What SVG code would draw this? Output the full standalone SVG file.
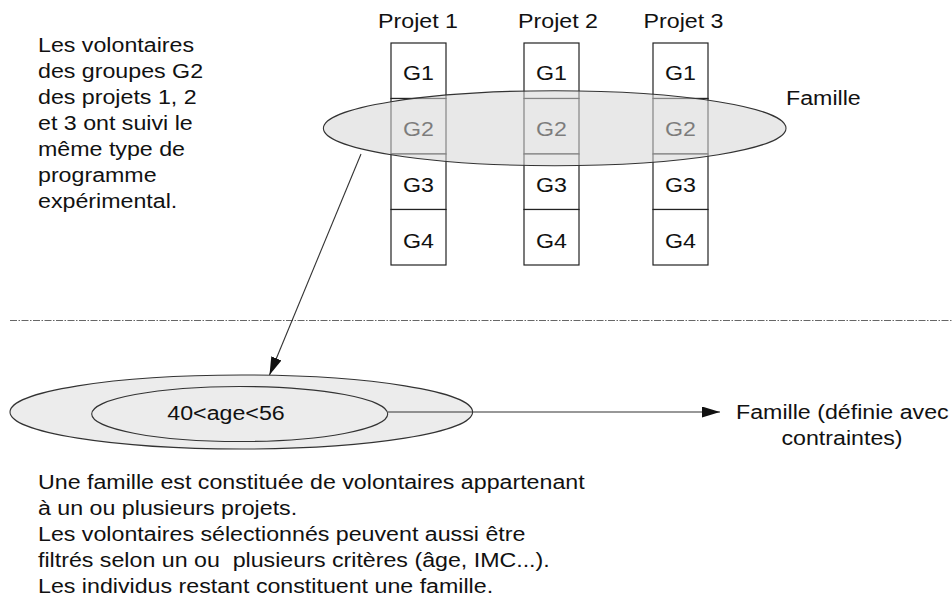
<svg xmlns="http://www.w3.org/2000/svg" width="952" height="599" viewBox="0 0 952 599">
  <style>
    .t { font-family: "Liberation Sans", Arial, sans-serif; font-size: 19.5px; fill: #111; }
    .mid { text-anchor: middle; }
    .box { fill: #fff; stroke: #222; stroke-width: 1.2; }
    .fam { fill: #d6d6d6; fill-opacity: 0.55; stroke: #333; stroke-width: 1.1; }
    .filt { fill: #ececec; stroke: #333; stroke-width: 1.1; }
    .conn { stroke: #333; stroke-width: 1.1; fill: none; }
  </style>
  <defs>
    <marker id="head" markerUnits="userSpaceOnUse" markerWidth="18" markerHeight="11" refX="18" refY="5.5" orient="auto">
      <path d="M0,0 L18,5.5 L0,11 z" fill="#111"/>
    </marker>
  </defs>

  <rect width="952" height="599" fill="#fff"/>

  <!-- explanatory note, top left -->
  <g id="note-g2">
    <text class="t" transform="translate(38,52.3) scale(1.19 1)">
      <tspan x="0" y="0">Les volontaires</tspan>
      <tspan x="0" dy="26">des groupes G2</tspan>
      <tspan x="0" dy="26">des projets 1, 2</tspan>
      <tspan x="0" dy="26">et 3 ont suivi le</tspan>
      <tspan x="0" dy="26">même type de</tspan>
      <tspan x="0" dy="26">programme</tspan>
      <tspan x="0" dy="26">expérimental.</tspan>
    </text>
  </g>

  <!-- project columns, groups G1..G4 -->
  <g id="projet1">
    <text class="t mid" transform="translate(418,28) scale(1.19 1)">Projet 1</text>
    <rect class="box" x="391" y="43" width="55" height="55.5"/>
    <rect class="box" x="391" y="98.5" width="55" height="55.5"/>
    <rect class="box" x="391" y="154" width="55" height="55.5"/>
    <rect class="box" x="391" y="209.5" width="55" height="55.5"/>
    <text class="t mid" transform="translate(418.5,80) scale(1.19 1)">G1</text>
    <text class="t mid" transform="translate(418.5,136) scale(1.19 1)">G2</text>
    <text class="t mid" transform="translate(418.5,191.5) scale(1.19 1)">G3</text>
    <text class="t mid" transform="translate(418.5,247.5) scale(1.19 1)">G4</text>
  </g>
  <g id="projet2">
    <text class="t mid" transform="translate(558,28) scale(1.19 1)">Projet 2</text>
    <rect class="box" x="524" y="43" width="55" height="55.5"/>
    <rect class="box" x="524" y="98.5" width="55" height="55.5"/>
    <rect class="box" x="524" y="154" width="55" height="55.5"/>
    <rect class="box" x="524" y="209.5" width="55" height="55.5"/>
    <text class="t mid" transform="translate(551.5,80) scale(1.19 1)">G1</text>
    <text class="t mid" transform="translate(551.5,136) scale(1.19 1)">G2</text>
    <text class="t mid" transform="translate(551.5,191.5) scale(1.19 1)">G3</text>
    <text class="t mid" transform="translate(551.5,247.5) scale(1.19 1)">G4</text>
  </g>
  <g id="projet3">
    <text class="t mid" transform="translate(683.5,28) scale(1.19 1)">Projet 3</text>
    <rect class="box" x="653" y="43" width="55" height="55.5"/>
    <rect class="box" x="653" y="98.5" width="55" height="55.5"/>
    <rect class="box" x="653" y="154" width="55" height="55.5"/>
    <rect class="box" x="653" y="209.5" width="55" height="55.5"/>
    <text class="t mid" transform="translate(680.5,80) scale(1.19 1)">G1</text>
    <text class="t mid" transform="translate(680.5,136) scale(1.19 1)">G2</text>
    <text class="t mid" transform="translate(680.5,191.5) scale(1.19 1)">G3</text>
    <text class="t mid" transform="translate(680.5,247.5) scale(1.19 1)">G4</text>
  </g>

  <!-- family spanning the G2 groups -->
  <g id="famille">
    <ellipse class="fam" cx="554.7" cy="128.2" rx="231.3" ry="37.5"/>
    <text class="t" transform="translate(786,105) scale(1.19 1)">Famille</text>
  </g>

  <!-- separator -->
  <line x1="10" y1="320.5" x2="952" y2="320.5" stroke="#666" stroke-width="1" stroke-dasharray="7 1.5 1.5 1.5"/>

  <!-- filtered family -->
  <g id="famille-filtree">
    <ellipse class="filt" cx="241.3" cy="412" rx="231.3" ry="37"/>
    <ellipse class="filt" cx="239.7" cy="414" rx="148" ry="27.5"/>
    <text class="t mid" transform="translate(226,420) scale(1.19 1)">40&lt;age&lt;56</text>
  </g>

  <g id="famille-contraintes">
    <text class="t" transform="translate(736,419) scale(1.19 1)">Famille (définie avec</text>
    <text class="t mid" transform="translate(842,445) scale(1.19 1)">contraintes)</text>
  </g>

  <!-- connectors -->
  <g id="connectors">
    <line class="conn" x1="361" y1="154" x2="269.5" y2="375" marker-end="url(#head)"/>
    <line class="conn" x1="388" y1="412" x2="720" y2="412" marker-end="url(#head)"/>
  </g>

  <!-- explanatory note, bottom -->
  <g id="note-famille">
    <text class="t" transform="translate(38,489.3) scale(1.19 1)">
      <tspan x="0" y="0">Une famille est constituée de volontaires appartenant</tspan>
      <tspan x="0" dy="26">à un ou plusieurs projets.</tspan>
      <tspan x="0" dy="26">Les volontaires sélectionnés peuvent aussi être</tspan>
      <tspan x="0" dy="26">filtrés selon un ou&#160; plusieurs critères (âge, IMC...).</tspan>
      <tspan x="0" dy="26">Les individus restant constituent une famille.</tspan>
    </text>
  </g>
</svg>
